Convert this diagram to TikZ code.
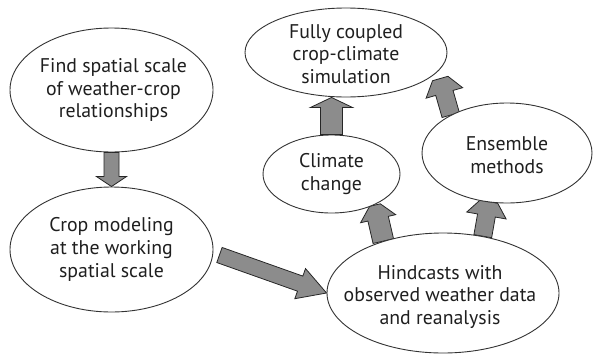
\documentclass[tikz,border=0pt]{standalone}
\usepackage{fontspec}
\setmainfont{PT Sans}
\usetikzlibrary{shapes.geometric,calc,backgrounds}
% #1 tail, #2 tip, #3 half body width, #4 half head width, #5 head length, #6 half tip width
\newcommand{\blkarrow}[6]{%
  \coordinate (ba-a) at (#1);
  \coordinate (ba-b) at (#2);
  \coordinate (ba-c) at ($(ba-b)!#5!(ba-a)$);
  \path[barrow] ($(ba-a)!#3!90:(ba-b)$) -- ($(ba-c)!#3!-90:(ba-a)$) -- ($(ba-c)!#4!-90:(ba-a)$)
    -- ($(ba-b)!#6!-90:(ba-a)$) -- ($(ba-b)!#6!90:(ba-a)$) -- ($(ba-c)!#4!90:(ba-a)$)
    -- ($(ba-c)!#3!90:(ba-a)$) -- ($(ba-a)!#3!-90:(ba-b)$) -- cycle;}
\begin{document}
\begin{tikzpicture}[x=1pt,y=1pt,
  ell/.style={ellipse, draw=black!80, line width=0.9pt, fill=white, inner sep=0pt},
  txt/.style={align=center, font=\fontsize{19.8}{22.8}\selectfont, text=black!88},
  barrow/.style={fill=black!45, draw=black!85, line width=0.8pt, line join=miter}]
\useasboundingbox (0,0) rectangle (593,360);
\node[ell, minimum width=203pt, minimum height=124pt,
  label={[txt,xshift=2pt]center:{Find spatial scale\\of weather-crop\\relationships}}] (find) at (111.5,270) {};
\node[ell, minimum width=203pt, minimum height=125pt,
  label={[txt]center:{Crop modeling\\at the working\\spatial scale}}] (crop) at (111.5,110.5) {};
\node[ell, minimum width=202pt, minimum height=89pt,
  label={[txt,yshift=-1.5pt]center:{Fully coupled\\crop-climate\\simulation}}] (full) at (346,307.5) {};
\node[ell, minimum width=137pt, minimum height=78pt,
  label={[txt]center:{Climate\\change}}] (cc) at (331.5,186) {};
\node[ell, minimum width=170pt, minimum height=100pt,
  label={[txt,yshift=-2pt]center:{Ensemble\\methods}}] (ens) at (507,207) {};
\node[ell, minimum width=232pt, minimum height=120pt,
  label={[txt,yshift=-4pt,xshift=-3pt]center:{Hindcasts with\\observed weather data\\and reanalysis}}] (hind) at (443,67) {};
\begin{pgfonlayer}{background}
  \blkarrow{find.south}{crop.north}{7.5pt}{15pt}{10pt}{0pt}
  \blkarrow{$(crop.east)+(6,-5.5)$}{hind.west}{8pt}{16pt}{28pt}{0pt}
  \blkarrow{cc.north}{cc.north |- full.south}{11pt}{21pt}{10pt}{0pt}
  \blkarrow{ens.146}{$(ens.146)+(106:38)$}{9pt}{19pt}{15pt}{8pt}
  \blkarrow{hind.139}{$(hind.139)+(103:37)$}{10.5pt}{18pt}{14pt}{5.5pt}
  \blkarrow{hind.55}{$(hind.55)+(80:35)$}{9pt}{20pt}{14pt}{9pt}
\end{pgfonlayer}
\end{tikzpicture}
\end{document}
